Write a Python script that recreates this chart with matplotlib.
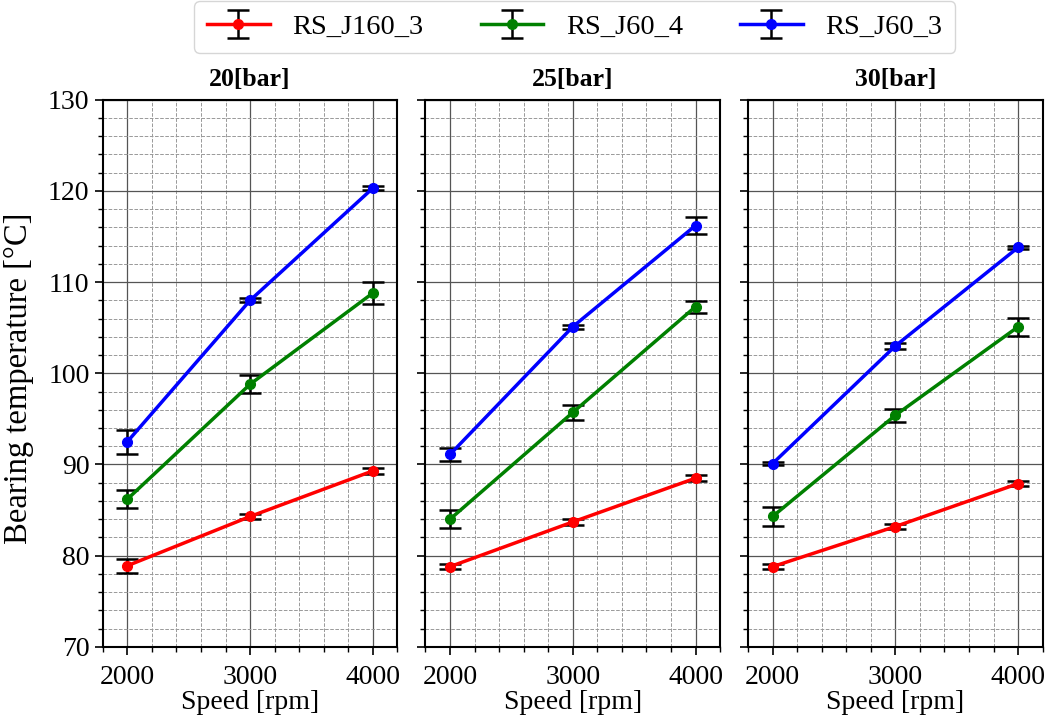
import matplotlib
matplotlib.use('Agg')
import matplotlib.pyplot as plt
from matplotlib.ticker import MultipleLocator

plt.rcParams['font.family'] = ['Liberation Serif', 'DejaVu Serif']

# data
speeds = [2000, 3000, 4000]
pressures = ['20[bar]', '25[bar]', '30[bar]']
series_names = ['RS_J160_3', 'RS_J60_4', 'RS_J60_3']
series_colors = ['red', 'green', 'blue']

# mean temperature [°C] per pressure panel
j160_3_mean = [[78.9, 84.3, 89.3], [78.8, 83.7, 88.5], [78.8, 83.2, 87.9]]
j60_4_mean = [[86.2, 98.8, 108.8], [84.0, 95.7, 107.3], [84.3, 95.4, 105.1]]
j60_3_mean = [[92.5, 108.0, 120.3], [91.1, 105.1, 116.2], [90.1, 103.0, 113.8]]

# error bar half widths
j160_3_err = [[0.75, 0.3, 0.3], [0.3, 0.3, 0.3], [0.3, 0.3, 0.3]]
j60_4_err = [[1.0, 1.0, 1.2], [1.0, 0.8, 0.65], [1.0, 0.7, 1.0]]
j60_3_err = [[1.3, 0.2, 0.2], [0.7, 0.2, 0.9], [0.2, 0.3, 0.2]]

means = [j160_3_mean, j60_4_mean, j60_3_mean]
errs = [j160_3_err, j60_4_err, j60_3_err]

fig, axes = plt.subplots(1, 3, figsize=(10.49, 7.22), dpi=100, sharey=True)
fig.subplots_adjust(left=0.098, right=0.994, bottom=0.104, top=0.862, wspace=0.095)

handles = []
for p, ax in enumerate(axes):
    for s in range(3):
        h = ax.errorbar(speeds, means[s][p], yerr=errs[s][p], color=series_colors[s],
                        marker='o', markersize=7, linewidth=2.5, ecolor='black',
                        elinewidth=1.8, capsize=8, capthick=1.8, label=series_names[s],
                        zorder=3)
        if p == 0:
            handles.append(h)
    ax.set_xlim(1800, 4200)
    ax.set_ylim(70, 130)
    ax.xaxis.set_major_locator(MultipleLocator(1000))
    ax.xaxis.set_minor_locator(MultipleLocator(200))
    ax.yaxis.set_major_locator(MultipleLocator(10))
    ax.yaxis.set_minor_locator(MultipleLocator(2))
    ax.grid(which='major', color='#555555', linestyle='-', linewidth=0.9)
    ax.grid(which='minor', color='#999999', linestyle='--', linewidth=0.7)
    ax.set_axisbelow(True)
    ax.tick_params(which='major', direction='out', length=6, width=1.2, labelsize=20)
    ax.tick_params(which='minor', direction='out', length=3.5, width=1.0)
    ax.tick_params(axis='x', which='major', pad=7)
    for sp in ax.spines.values():
        sp.set_linewidth(1.5)
    ax.set_title(pressures[p], fontsize=18.5, fontweight='bold', pad=10)
    ax.set_xlabel('Speed [rpm]', fontsize=20, labelpad=0)

axes[0].set_ylabel('Bearing temperature [°C]', fontsize=23.5)
axes[0].yaxis.set_label_coords(-0.235, 0.49)

fig.legend(handles=handles, labels=series_names, loc='upper center', ncol=3,
           bbox_to_anchor=(0.548, 1.018), fontsize=20.5, frameon=True, fancybox=True,
           handlelength=2.2, columnspacing=2.0, borderpad=0.45)

fig.savefig('out.png', dpi=100)
